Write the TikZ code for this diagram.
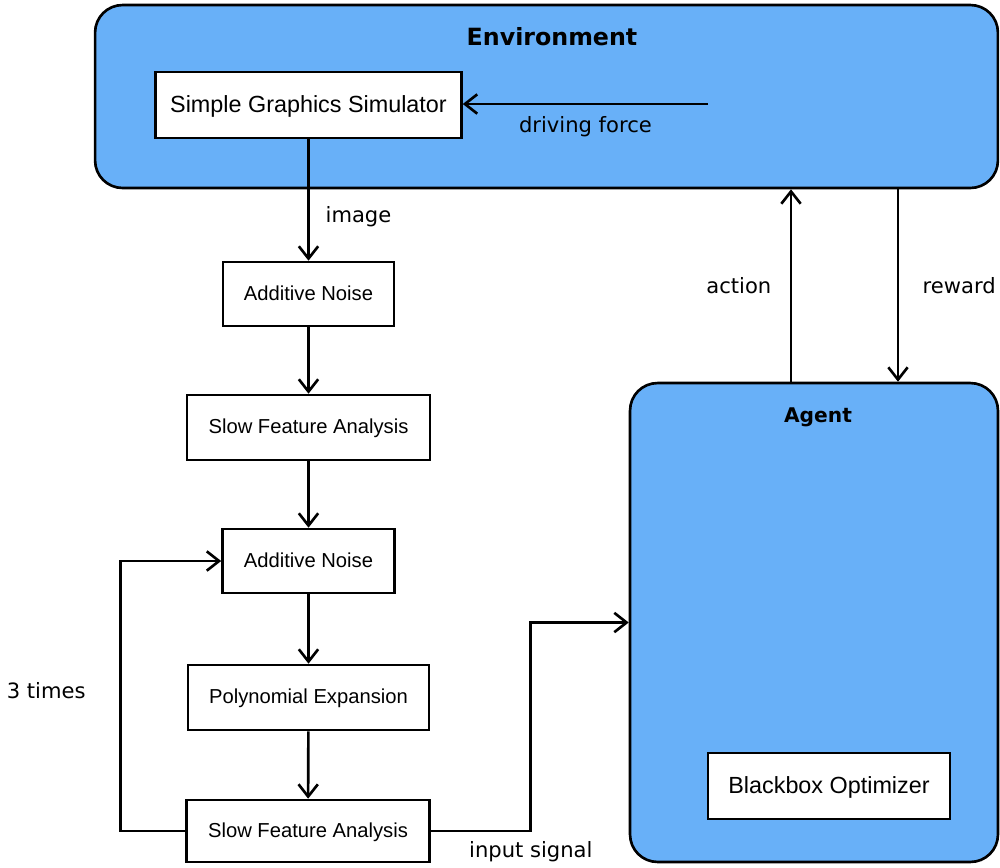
\documentclass[tikz,border=0pt]{standalone}
\usepackage{fontspec}
\setmainfont{DejaVu Sans}
\newfontfamily\boxfont{Liberation Sans}
\usetikzlibrary{arrows.meta}

\begin{document}
\begin{tikzpicture}[x=0.02cm,y=-0.02cm,>={Straight Barb[length=7pt,width=11pt]},line width=1.5pt,
 block/.style={draw,fill=white,inner sep=0pt,text depth=0.1em,font=\boxfont\fontsize{11.5}{13}\selectfont},
 big block/.style={block,font=\boxfont\fontsize{13.3}{15}\selectfont},
 region/.style={draw,fill=regioncolor,rounded corners=0.55cm,inner sep=0pt},
 region title/.style={font=\bfseries\fontsize{#1}{16}\selectfont},
 edge label/.style={font=\fontsize{12}{14}\selectfont}]
 \definecolor{regioncolor}{RGB}{104,176,248}

 \useasboundingbox (0,0) rectangle (1000,867);

 % environment and agent
 \node[region,minimum width=18.06cm,minimum height=3.66cm] (env) at (546.5,96.5) {};
 \node[region title=13.5] (envtitle) at (552,37) {Environment};
 \node[region,minimum width=7.36cm,minimum height=9.58cm] (agent) at (814,622.5) {};
 \node[region title=11.5] (agenttitle) at (818,417) {Agent};

 % blocks
 \node[big block,minimum width=6.12cm,minimum height=1.32cm] (sim) at (308.5,105) {Simple Graphics Simulator};
 \node[block,minimum width=3.42cm,minimum height=1.28cm] (noise1) at (308.5,294) {Additive Noise};
 \node[block,minimum width=4.86cm,minimum height=1.3cm] (sfa1) at (308.5,427.5) {Slow Feature Analysis};
 \node[block,minimum width=3.44cm,minimum height=1.28cm] (noise2) at (308.5,561) {Additive Noise};
 \node[block,minimum width=4.82cm,minimum height=1.3cm] (poly) at (308.5,697.5) {Polynomial Expansion};
 \node[block,minimum width=4.86cm,minimum height=1.24cm] (sfa2) at (308,831) {Slow Feature Analysis};
 \node[big block,minimum width=4.84cm,minimum height=1.32cm] (opt) at (829,786) {Blackbox Optimizer};

 \coordinate (force) at (708,104);

 % connections
 \draw[->] (force) -- node[edge label,below=3pt] {driving force} (force -| sim.east);
 \draw[->] (sim) -- node[edge label,pos=0.64,right=0.2cm] {image} (noise1);
 \draw[->] (noise1) -- (sfa1);
 \draw[->] (sfa1) -- (noise2);
 \draw[->] (noise2) -- (poly);
 \draw[->] (poly) -- (sfa2);
 \draw[->] (sfa2.west) -- ++(-65,0) |- node[edge label,pos=0.26,left=0.55cm] {3 times} (noise2.west);
 \draw[->] (sfa2.east) -- ++(100,0) node[edge label,below=2pt] {input signal} |- (agent.west);
 \draw[->] ([xshift=-0.46cm]agent.north) -- node[edge label,left=0.25cm] {action} ([xshift=-0.46cm]agent.north |- env.south);
 \draw[->] ([xshift=1.68cm]agent.north |- env.south) -- node[edge label,right=0.35cm] {reward} ([xshift=1.68cm]agent.north);
\end{tikzpicture}
\end{document}
